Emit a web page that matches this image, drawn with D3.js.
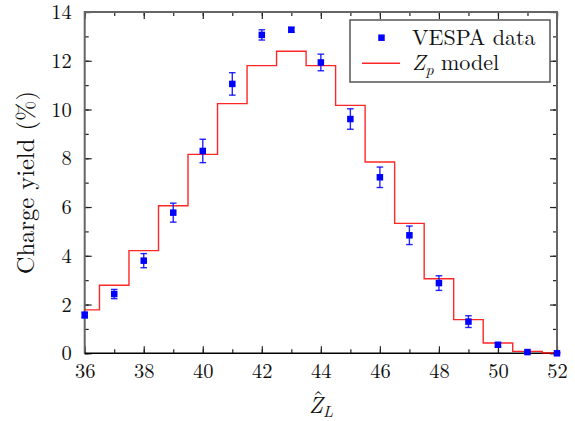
<!DOCTYPE html>
<html>
<head>
<meta charset="utf-8">
<script src="https://cdn.jsdelivr.net/npm/d3@7"></script>
<style>
  html, body { margin: 0; padding: 0; background: #fff; }
  svg { display: block; }
</style>
</head>
<body>
<svg id="chart" width="575" height="421"></svg>
<script>
// ---- data ----
const charges = [36, 37, 38, 39, 40, 41, 42, 43, 44, 45, 46, 47, 48, 49, 50, 51, 52];
const dataYield = [1.57, 2.43, 3.80, 5.77, 8.30, 11.05, 13.06, 13.27, 11.93, 9.61, 7.22, 4.84, 2.88, 1.30, 0.35, 0.05, 0.00];
const dataErr = [0.12, 0.19, 0.29, 0.39, 0.48, 0.46, 0.21, 0.10, 0.34, 0.42, 0.42, 0.38, 0.30, 0.24, 0.08, 0.03, 0.02];
const modelYield = [1.78, 2.79, 4.21, 6.05, 8.16, 10.24, 11.80, 12.39, 11.80, 10.17, 7.85, 5.33, 3.06, 1.38, 0.42, 0.08, 0.01];
const xMajorTicks = [36, 38, 40, 42, 44, 46, 48, 50, 52];
const yMajorTicks = [0, 2, 4, 6, 8, 10, 12, 14];
const legendLabels = ["VESPA data", "model"];

// ---- layout ----
const FONT = "'Latin Modern Roman', 'Liberation Serif', serif";
const svg = d3.select("#chart");
const L = 84.7, R = 557, T = 12, B = 353.3;
const x = d3.scaleLinear().domain([36, 52]).range([L, R]);
const y = d3.scaleLinear().domain([0, 14]).range([B, T]);

const minorX = d3.range(36, 53, 1);
const minorY = d3.range(0, 15, 1);

function styleAxis(g) {
  g.select(".domain").remove();
  g.selectAll(".tick line").attr("stroke", "#222").attr("stroke-width", 1.2);
  g.selectAll(".tick text").style("font-family", FONT).style("font-size", "20.5px").attr("fill", "#111");
}

// minor ticks
svg.append("g").attr("transform", `translate(0,${B})`)
  .call(d3.axisBottom(x).tickValues(minorX).tickSize(-4).tickFormat(""))
  .call(styleAxis);
svg.append("g").attr("transform", `translate(0,${T})`)
  .call(d3.axisTop(x).tickValues(minorX).tickSize(-4).tickFormat(""))
  .call(styleAxis);
svg.append("g").attr("transform", `translate(${L},0)`)
  .call(d3.axisLeft(y).tickValues(minorY).tickSize(-4).tickFormat(""))
  .call(styleAxis);
svg.append("g").attr("transform", `translate(${R},0)`)
  .call(d3.axisRight(y).tickValues(minorY).tickSize(-4).tickFormat(""))
  .call(styleAxis);

// major ticks
svg.append("g").attr("transform", `translate(0,${B})`)
  .call(d3.axisBottom(x).tickValues(xMajorTicks).tickSize(-7).tickPadding(10.5).tickFormat(d3.format("d")))
  .call(styleAxis);
svg.append("g").attr("transform", `translate(0,${T})`)
  .call(d3.axisTop(x).tickValues(xMajorTicks).tickSize(-7).tickFormat(""))
  .call(styleAxis);
svg.append("g").attr("transform", `translate(${L},0)`)
  .call(d3.axisLeft(y).tickValues(yMajorTicks).tickSize(-7).tickPadding(13).tickFormat(d3.format("d")))
  .call(styleAxis);
svg.append("g").attr("transform", `translate(${R},0)`)
  .call(d3.axisRight(y).tickValues(yMajorTicks).tickSize(-7).tickFormat(""))
  .call(styleAxis);

// frame
svg.append("path")
  .attr("d", `M${L},${B}V${T}H${R}V${B}`)
  .attr("fill", "none").attr("stroke", "#666").attr("stroke-width", 2);
svg.append("line").attr("x1", L).attr("x2", R).attr("y1", B).attr("y2", B)
  .attr("stroke", "#000").attr("stroke-width", 1.5);

// model step line
const model = charges.map((c, i) => ({ c, v: modelYield[i] }));
const stepLine = d3.line().x(d => x(d.c)).y(d => y(d.v)).curve(d3.curveStep);
svg.append("path").datum(model)
  .attr("d", stepLine)
  .attr("fill", "none").attr("stroke", "#ff0000").attr("stroke-width", 1.4)
  .attr("stroke-opacity", 0.85);

// data points with error bars
const pts = charges.map((c, i) => ({ c, v: dataYield[i], e: dataErr[i] }));
const eg = svg.append("g").attr("stroke", "#0000ff").attr("stroke-width", 1.4).attr("stroke-opacity", 0.85);
const cap = 3.3;
pts.forEach(d => {
  const cx = x(d.c), y1 = y(d.v + d.e), y0 = y(Math.max(0, d.v - d.e));
  eg.append("line").attr("x1", cx).attr("x2", cx).attr("y1", y1).attr("y2", y0);
  eg.append("line").attr("x1", cx - cap).attr("x2", cx + cap).attr("y1", y1).attr("y2", y1);
  eg.append("line").attr("x1", cx - cap).attr("x2", cx + cap).attr("y1", y0).attr("y2", y0);
});
const ms = 6.5;
svg.append("g").selectAll("rect").data(pts).join("rect")
  .attr("x", d => x(d.c) - ms / 2).attr("y", d => y(d.v) - ms / 2)
  .attr("width", ms).attr("height", ms).attr("fill", "#0000ff");

// axis labels
svg.append("text")
  .attr("transform", `translate(34,${(T + B) / 2}) rotate(-90)`)
  .attr("text-anchor", "middle")
  .style("font-family", FONT).style("font-size", "24.5px").attr("fill", "#111")
  .text("Charge yield (%)");

const xl = svg.append("text").attr("x", (L + R) / 2).attr("y", 413)
  .attr("text-anchor", "start")
  .style("font-family", FONT).style("font-size", "23px").attr("fill", "#111");
const zSpan = xl.append("tspan").style("font-style", "italic").text("Z");
xl.append("tspan").style("font-style", "italic").style("font-size", "16px").attr("dy", 4).text("L");
const totalW = xl.node().getComputedTextLength();
const x0 = (L + R) / 2 - totalW / 2;
xl.attr("x", x0);
const zW = zSpan.node().getComputedTextLength();
svg.append("text").attr("x", x0 + zW / 2 + 2.5).attr("y", 407)
  .attr("text-anchor", "middle")
  .style("font-family", FONT).style("font-size", "23px").attr("fill", "#111")
  .text("ˆ");

// legend
const lg = svg.append("g");
lg.append("rect").attr("x", 350).attr("y", 20).attr("width", 200).attr("height", 62)
  .attr("fill", "#fff").attr("stroke", "#555").attr("stroke-width", 1.5);
lg.append("rect").attr("x", 381.5 - 3.25).attr("y", 37.7 - 3.25).attr("width", 6.5).attr("height", 6.5).attr("fill", "#0000ff");
lg.append("line").attr("x1", 362).attr("x2", 400).attr("y1", 63.3).attr("y2", 63.3)
  .attr("stroke", "#ff0000").attr("stroke-width", 1.4).attr("stroke-opacity", 0.85);
lg.append("text").attr("x", 412).attr("y", 45)
  .style("font-family", FONT).style("font-size", "22px").attr("fill", "#111")
  .text(legendLabels[0]);
const t2 = lg.append("text").attr("x", 412).attr("y", 70)
  .style("font-family", FONT).style("font-size", "22px").attr("fill", "#111");
t2.append("tspan").style("font-style", "italic").text("Z");
t2.append("tspan").style("font-style", "italic").style("font-size", "16px").attr("dy", 5).text("p");
t2.append("tspan").attr("dy", -5).text(" " + legendLabels[1]);
</script>
</body>
</html>
